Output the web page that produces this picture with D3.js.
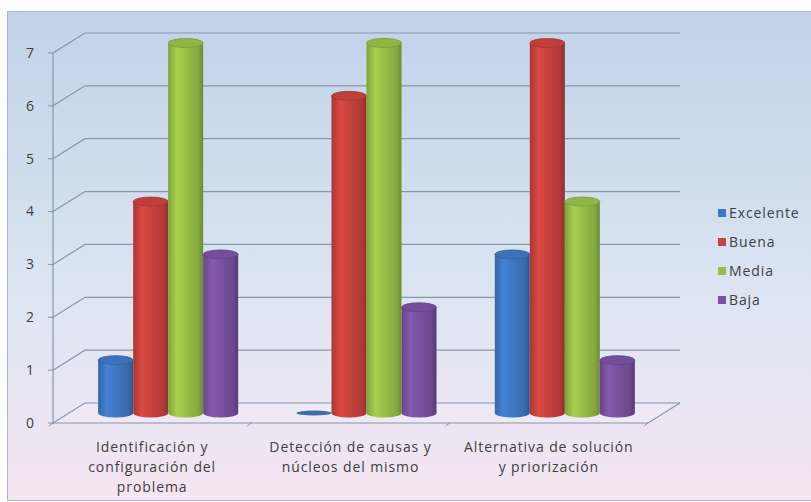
<!DOCTYPE html>
<html>
<head>
<meta charset="utf-8">
<script src="https://cdn.jsdelivr.net/npm/d3@7"></script>
<style>
  html, body { margin: 0; padding: 0; background: #fff; }
  svg { display: block; }
  text { font-family: "Open Sans", Lato, sans-serif; fill: #404040; }
</style>
</head>
<body>
<div id="chart"></div>
<script>
// Evaluation results per criterion, grouped by rating level
const categories = [
  ["Identificación y", "configuración del", "problema"],
  ["Detección de causas y", "núcleos del mismo"],
  ["Alternativa de solución", "y priorización"]
];
const seriesNames = ["Excelente", "Buena", "Media", "Baja"];
const excelente = [1, 0, 3];
const buena = [4, 6, 7];
const media = [7, 7, 4];
const baja = [3, 2, 1];
const yTicks = [0, 1, 2, 3, 4, 5, 6, 7];
const seriesColors = ["#3f78c4", "#c9423e", "#98c047", "#7a52a0"];

const seriesValues = [excelente, buena, media, baja];

const W = 811, H = 502;
const svg = d3.select("#chart").append("svg").attr("width", W).attr("height", H);
const defs = svg.append("defs");

// background panel
const bg = defs.append("linearGradient").attr("id", "bg").attr("x1", 0).attr("y1", 0).attr("x2", 0).attr("y2", 1);
[["0%", "#c2d2e8"], ["40%", "#d3dfee"], ["62%", "#dfe6f3"], ["100%", "#f6e4f2"]]
  .forEach(([o, c]) => bg.append("stop").attr("offset", o).attr("stop-color", c));
svg.append("rect").attr("x", 7.5).attr("y", 11.5).attr("width", W).attr("height", 489)
  .attr("fill", "url(#bg)").attr("stroke", "#a9b9cd").attr("stroke-width", 1);

// cylinder shading per series
seriesColors.forEach((c, i) => {
  const col = d3.color(c);
  const g = defs.append("linearGradient").attr("id", "cyl" + i).attr("x1", 0).attr("x2", 1).attr("y1", 0).attr("y2", 0);
  [["0%", col.darker(0.5)], ["25%", col.brighter(0.25)], ["50%", col], ["85%", col.darker(0.35)], ["100%", col.darker(0.9)]]
    .forEach(([o, cc]) => g.append("stop").attr("offset", o).attr("stop-color", cc));
});

// 3D geometry: front plane, depth offset
const x0 = 53, x1 = 648;
const DX = 32, DY = -20;
const y = d3.scaleLinear().domain([0, 7]).range([423, 53]);
const x = d3.scaleBand().domain(d3.range(categories.length)).range([x0, x1]).paddingInner(0).paddingOuter(0);
const xs = d3.scaleBand().domain(d3.range(seriesNames.length)).range([0, 140]).padding(0);

const grid = "#8696ab";

// floor
const floor = d3.path();
floor.moveTo(x0, y(0)); floor.lineTo(x1, y(0)); floor.lineTo(x1 + DX, y(0) + DY); floor.lineTo(x0 + DX, y(0) + DY); floor.closePath();
svg.append("path").attr("d", floor.toString()).attr("fill", "rgba(255,255,255,0.18)").attr("stroke", "none");

// gridlines on side wall and back wall
yTicks.forEach(t => {
  const yy = y(t);
  svg.append("path")
    .attr("d", `M${x0},${yy}L${x0 + DX},${yy + DY}L${x1 + DX},${yy + DY}`)
    .attr("fill", "none").attr("stroke", grid).attr("stroke-width", 1.2);
});

// floor edges
svg.append("path").attr("d", `M${x0},${y(0)}L${x1},${y(0)}L${x1 + DX},${y(0) + DY}`)
  .attr("fill", "none").attr("stroke", grid).attr("stroke-width", 1.2);

// vertical axis and ticks
svg.append("line").attr("x1", x0).attr("x2", x0).attr("y1", y(7)).attr("y2", y(0))
  .attr("stroke", grid).attr("stroke-width", 1.2);
svg.selectAll(".ytick").data(yTicks).join("line")
  .attr("x1", x0 - 5).attr("x2", x0).attr("y1", d => y(d)).attr("y2", d => y(d))
  .attr("stroke", grid);
svg.selectAll(".ylab").data(yTicks).join("text")
  .attr("x", 34).attr("y", d => y(d)).attr("dy", "0.35em").attr("text-anchor", "end")
  .attr("font-size", 14).text(d => d);

// category ticks on the floor's front edge
d3.range(categories.length + 1).forEach(i => {
  const xx = i < categories.length ? x(i) : x1;
  svg.append("line").attr("x1", xx).attr("x2", xx - 4).attr("y1", y(0)).attr("y2", y(0) + 3)
    .attr("stroke", grid);
});

// cylinders, placed at mid-depth
const ry = 4.5;
categories.forEach((cat, ci) => {
  const gx = x(ci) + x.bandwidth() / 2 + DX / 2 - 70;
  seriesValues.forEach((vals, si) => {
    const v = vals[ci];
    const bx = gx + xs(si);
    const bw = xs.bandwidth();
    const cx = bx + bw / 2;
    const yb = y(0) + DY / 2;
    const yt = y(v) + DY / 2;
    const g = svg.append("g");
    const col = d3.color(seriesColors[si]);
    if (v > 0) {
      g.append("path")
        .attr("d", `M${bx},${yt}L${bx},${yb}A${bw / 2},${ry} 0 0 0 ${bx + bw},${yb}L${bx + bw},${yt}Z`)
        .attr("fill", `url(#cyl${si})`);
      g.append("ellipse").attr("cx", cx).attr("cy", yt).attr("rx", bw / 2).attr("ry", ry)
        .attr("fill", col.darker(0.15)).attr("stroke", col.darker(0.6)).attr("stroke-width", 0.8);
    } else {
      g.append("ellipse").attr("cx", cx).attr("cy", yb).attr("rx", bw / 2).attr("ry", 2.5)
        .attr("fill", col.darker(0.3));
    }
  });
});

// category labels
categories.forEach((lines, ci) => {
  const cx = x(ci) + x.bandwidth() / 2;
  const t = svg.append("text").attr("text-anchor", "middle").attr("font-size", 14)
    .attr("letter-spacing", 0.9).attr("x", cx).attr("y", 452);
  lines.forEach((ln, li) => t.append("tspan").attr("x", cx).attr("dy", li ? 20 : 0).text(ln));
});

// legend
const legend = svg.append("g").attr("transform", "translate(718,213)");
seriesNames.forEach((name, i) => {
  const row = legend.append("g").attr("transform", `translate(0,${i * 29})`);
  row.append("rect").attr("x", 0).attr("y", -4).attr("width", 8).attr("height", 8).attr("fill", seriesColors[i]);
  row.append("text").attr("x", 11).attr("y", 0).attr("dy", "0.35em").attr("font-size", 14)
    .attr("letter-spacing", 0.9).text(name);
});
</script>
</body>
</html>
